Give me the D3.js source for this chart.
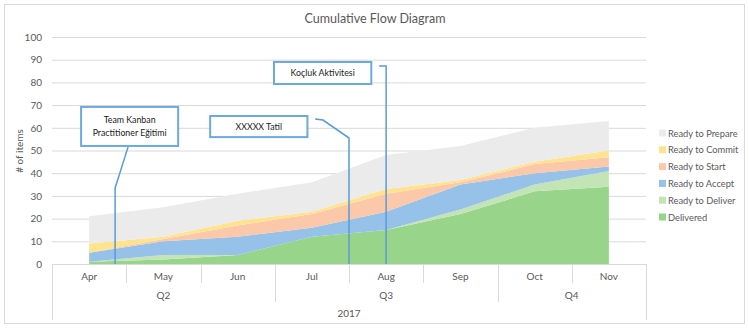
<!DOCTYPE html>
<html>
<head>
<meta charset="utf-8">
<script src="https://cdn.jsdelivr.net/npm/d3@7"></script>
<style>
  html, body { margin: 0; padding: 0; background: #fff; }
  svg { display: block; font-family: Lato, "Open Sans", sans-serif; }
</style>
</head>
<body>
<svg id="chart" width="749" height="328"></svg>
<script>
// ---- data ----
const months = ["Apr", "May", "Jun", "Jul", "Aug", "Sep", "Oct", "Nov"];
const monthQuarter = ["Q2", "Q2", "Q2", "Q3", "Q3", "Q3", "Q4", "Q4"];
const yearLabel = "2017";
const seriesNames = ["Delivered", "Ready to Deliver", "Ready to Accept", "Ready to Start", "Ready to Commit", "Ready to Prepare"];
const delivered      = [1, 2, 4, 12, 15, 22, 32, 34];
const readyToDeliver = [0, 2, 0, 0, 0, 2, 3, 7];
const readyToAccept  = [4, 6, 8, 4, 8, 11, 5, 2];
const readyToStart   = [0, 1, 5, 6, 8, 1, 4, 4];
const readyToCommit  = [4, 1, 2, 1, 2, 1, 1, 3];
const readyToPrepare = [12, 13, 12, 13, 15, 15, 15, 13];
const yTicks = [0, 10, 20, 30, 40, 50, 60, 70, 80, 90, 100];
const colors = ["#98d58a", "#c3e4b5", "#96c1e8", "#fbc9a9", "#ffe38f", "#ebebeb"];

// annotations: box in (month index, value) space; line path in same space
const annotations = [
  { lines: ["Team Kanban", "Practitioner Eğitimi"], box: [-0.108, 1.199, 69.2, 52.0],
    path: [[0.525, 51.6], [0.35, 33.5], [0.35, 0]] },
  { lines: ["XXXXX Tatil"], box: [1.63, 2.94, 65.2, 55.9],
    path: [[3.044, 63.9], [3.15, 63.4], [3.5, 55.5], [3.5, 0]] },
  { lines: ["Koçluk Aktivitesi"], box: [2.49, 3.80, 89.0, 79.3],
    path: [[3.906, 87.2], [4.0, 87.2], [4.0, 0]] }
];

// ---- build table ----
const seriesArrays = [delivered, readyToDeliver, readyToAccept, readyToStart, readyToCommit, readyToPrepare];
const table = months.map((m, i) => {
  const row = { month: m };
  seriesNames.forEach((s, k) => row[s] = seriesArrays[k][i]);
  return row;
});

const svg = d3.select("#chart");
const W = 749, H = 328;
const plot = { left: 52, right: 646, top: 37, bottom: 264 };

svg.append("rect").attr("x", 0).attr("y", 0).attr("width", W).attr("height", H).attr("fill", "#fff");
svg.append("rect").attr("x", 4.5).attr("y", 4.5).attr("width", 740).attr("height", 319)
  .attr("fill", "none").attr("stroke", "#d9d9d9");

const x = d3.scaleBand().domain(months).range([plot.left, plot.right]).paddingInner(0).paddingOuter(0);
const bw = x.bandwidth();
const xc = m => x(m) + bw / 2;
const xi = d3.scaleLinear().domain([0, months.length - 1]).range([xc(months[0]), xc(months[months.length - 1])]);
const y = d3.scaleLinear().domain([0, 100]).range([plot.bottom, plot.top]);

// title
svg.append("text").attr("x", 375).attr("y", 23).attr("text-anchor", "middle")
  .attr("font-size", 12.5).attr("fill", "#595959").text("Cumulative Flow Diagram");

// gridlines + y labels
const yAxis = d3.axisLeft(y).tickValues(yTicks).tickSize(-(plot.right - plot.left)).tickPadding(10);
const gy = svg.append("g").attr("transform", `translate(${plot.left},0)`).call(yAxis);
gy.select(".domain").remove();
gy.selectAll(".tick line").attr("stroke", "#d9d9d9");
gy.selectAll(".tick text").attr("fill", "#595959").attr("font-size", 10).attr("font-family", "Lato, sans-serif");

// y title
svg.append("text").attr("transform", "translate(23,151) rotate(-90)").attr("text-anchor", "middle")
  .attr("font-size", 10).attr("fill", "#595959").text("# of items");

// stacked areas
const stack = d3.stack().keys(seriesNames);
const stacked = stack(table);
const area = d3.area().x(d => xc(d.data.month)).y0(d => y(d[0])).y1(d => y(d[1]));
svg.append("g").selectAll("path").data(stacked).join("path")
  .attr("d", area).attr("fill", (d, i) => colors[i]);

// category axis line
svg.append("line").attr("x1", plot.left).attr("x2", plot.right).attr("y1", plot.bottom + 0.5).attr("y2", plot.bottom + 0.5)
  .attr("stroke", "#d9d9d9");

// month labels
const xAxis = d3.axisBottom(x).tickSize(0).tickPadding(9);
const gx = svg.append("g").attr("transform", `translate(0,${plot.bottom})`).call(xAxis);
gx.select(".domain").remove();
gx.selectAll(".tick text").attr("fill", "#595959").attr("font-size", 10).attr("font-family", "Lato, sans-serif");

// multi-level separators
const edges = months.map((m, i) => ({ x: x(m), i })).concat([{ x: plot.right, i: months.length }]);
edges.forEach(e => {
  let len;
  if (e.i === 0 || e.i === months.length) len = 56;
  else if (monthQuarter[e.i] !== monthQuarter[e.i - 1]) len = 38;
  else len = 19;
  svg.append("line").attr("x1", Math.round(e.x) + 0.5).attr("x2", Math.round(e.x) + 0.5)
    .attr("y1", plot.bottom).attr("y2", plot.bottom + len).attr("stroke", "#d9d9d9");
});

// quarter labels
const quarters = Array.from(new Set(monthQuarter));
quarters.forEach(q => {
  const ms = months.filter((m, i) => monthQuarter[i] === q);
  const x0 = x(ms[0]), x1 = x(ms[ms.length - 1]) + bw;
  svg.append("text").attr("x", (x0 + x1) / 2).attr("y", plot.bottom + 35).attr("text-anchor", "middle")
    .attr("font-size", 10).attr("fill", "#595959").text(q);
});
svg.append("text").attr("x", (plot.left + plot.right) / 2).attr("y", plot.bottom + 53).attr("text-anchor", "middle")
  .attr("font-size", 10).attr("fill", "#595959").text(yearLabel);

// legend
const legendItems = seriesNames.map((s, i) => ({ s, c: colors[i] })).reverse();
const lg = svg.append("g").attr("transform", "translate(659,133)");
legendItems.forEach((d, i) => {
  const g = lg.append("g").attr("transform", `translate(0,${i * 16.8})`);
  g.append("rect").attr("x", 0).attr("y", -3.5).attr("width", 7).attr("height", 7).attr("fill", d.c);
  g.append("text").attr("x", 9).attr("y", 3.5).attr("font-size", 9.3).attr("fill", "#595959").text(d.s);
});

// annotations
const line = d3.line().x(p => xi(p[0])).y(p => y(p[1]));
annotations.forEach(a => {
  svg.append("path").attr("d", line(a.path)).attr("fill", "none").attr("stroke", "#5b9bd5").attr("stroke-width", 1.5);
});
annotations.forEach(a => {
  const bx0 = xi(a.box[0]), bx1 = xi(a.box[1]), by0 = y(a.box[2]), by1 = y(a.box[3]);
  svg.append("rect").attr("x", bx0).attr("y", by0).attr("width", bx1 - bx0).attr("height", by1 - by0)
    .attr("fill", "#fff").attr("stroke", "#6fa8dc").attr("stroke-width", 2);
  const cx = (bx0 + bx1) / 2, cy = (by0 + by1) / 2;
  const lh = 12.5;
  a.lines.forEach((t, k) => {
    svg.append("text").attr("x", cx).attr("y", cy + (k - (a.lines.length - 1) / 2) * lh + 3.2)
      .attr("text-anchor", "middle").attr("font-size", 8.8).attr("fill", "#1a1a1a").text(t);
  });
});
</script>
</body>
</html>
